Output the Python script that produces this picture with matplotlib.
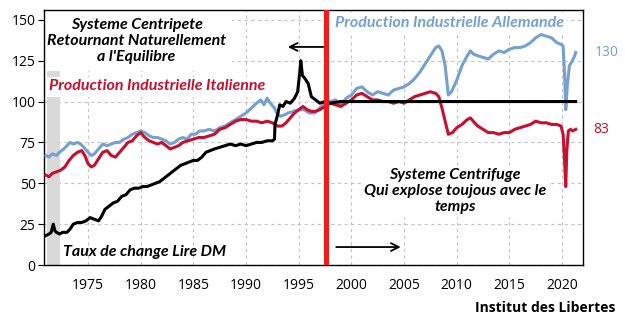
import matplotlib
matplotlib.use("Agg")
import matplotlib.pyplot as plt
from matplotlib.patches import Rectangle

# ---------------- data ----------------
de_t = [1971.0, 1971.3, 1971.6, 1972.0, 1972.3, 1972.7, 1973.0, 1973.3, 1973.6, 1974.0, 1974.3, 1974.6,
        1975.0, 1975.3, 1975.6, 1976.0, 1976.4, 1976.8, 1977.2, 1977.6, 1978.0, 1978.4, 1978.8, 1979.2,
        1979.6, 1980.0, 1980.4, 1980.8, 1981.2, 1981.6, 1982.0, 1982.4, 1982.8, 1983.2, 1983.6, 1984.0,
        1984.4, 1984.8, 1985.2, 1985.6, 1986.0, 1986.5, 1987.0, 1987.5, 1988.0, 1988.5, 1989.0, 1989.5,
        1990.0, 1990.5, 1991.0, 1991.4, 1991.7, 1992.0, 1992.3, 1992.7, 1993.0, 1993.3, 1993.7, 1994.0,
        1994.5, 1995.0, 1995.5, 1996.0, 1996.5, 1997.0, 1997.5, 1998.0, 1998.5, 1999.0, 1999.5, 2000.0,
        2000.5, 2001.0, 2001.5, 2002.0, 2002.5, 2003.0, 2003.5, 2004.0, 2004.5, 2005.0, 2005.5, 2006.0,
        2006.5, 2007.0, 2007.5, 2008.0, 2008.3, 2008.6, 2008.9, 2009.2, 2009.5, 2010.0, 2010.5, 2011.0,
        2011.3, 2011.6, 2012.0, 2012.5, 2013.0, 2013.5, 2014.0, 2014.5, 2015.0, 2015.5, 2016.0, 2016.5,
        2017.0, 2017.5, 2018.0, 2018.5, 2019.0, 2019.5, 2019.9, 2020.1, 2020.25, 2020.35, 2020.5, 2020.7,
        2020.9, 2021.2, 2021.3]
de_v = [67, 66, 68, 67, 69, 71, 73, 75, 74, 75, 74, 72,
        69, 67, 68, 71, 74, 73, 74, 75, 75, 77, 78, 80,
        81, 82, 81, 79, 78, 78, 77, 76, 74, 75, 77, 78,
        77, 80, 80, 82, 82, 83, 82, 84, 85, 87, 89, 91,
        93, 96, 99, 101, 98, 102, 99, 96, 92, 91, 92, 93,
        94, 95, 95, 93, 93, 96, 99, 100, 101, 98, 102, 104,
        108, 109, 106, 104, 106, 105, 104, 107, 108, 109, 111, 114,
        118, 123, 128, 133, 134, 131, 122, 104, 106, 113, 122, 128,
        131, 129, 128, 127, 126, 129, 131, 130, 132, 133, 133, 134,
        136, 139, 141, 140, 139, 136, 135, 134, 115, 95, 110, 122,
        124, 128, 130]

it_t = [1971.0, 1971.3, 1971.6, 1972.0, 1972.4, 1972.8, 1973.2, 1973.6, 1974.0, 1974.4, 1974.7, 1975.0,
        1975.3, 1975.6, 1976.0, 1976.4, 1976.8, 1977.2, 1977.6, 1978.0, 1978.4, 1978.8, 1979.2, 1979.6,
        1980.0, 1980.4, 1980.8, 1981.2, 1981.6, 1982.0, 1982.4, 1982.8, 1983.2, 1983.6, 1984.0, 1984.5,
        1985.0, 1985.5, 1986.0, 1986.5, 1987.0, 1987.5, 1988.0, 1988.5, 1989.0, 1989.5, 1990.0, 1990.5,
        1991.0, 1991.5, 1992.0, 1992.5, 1993.0, 1993.4, 1993.8, 1994.2, 1994.6, 1995.0, 1995.4, 1995.8,
        1996.2, 1996.6, 1997.0, 1997.5, 1998.0, 1998.5, 1999.0, 1999.5, 2000.0, 2000.5, 2001.0, 2001.5,
        2002.0, 2002.5, 2003.0, 2003.5, 2004.0, 2004.5, 2005.0, 2005.5, 2006.0, 2006.5, 2007.0, 2007.5,
        2008.0, 2008.3, 2008.6, 2008.9, 2009.2, 2009.6, 2010.0, 2010.5, 2011.0, 2011.3, 2011.7, 2012.0,
        2012.5, 2013.0, 2013.5, 2014.0, 2014.5, 2015.0, 2015.5, 2016.0, 2016.5, 2017.0, 2017.5, 2018.0,
        2018.5, 2019.0, 2019.5, 2019.9, 2020.1, 2020.25, 2020.35, 2020.45, 2020.6, 2020.8, 2021.0, 2021.3]
it_v = [55, 54, 56, 57, 58, 60, 64, 67, 69, 70, 67, 62,
        60, 61, 65, 69, 70, 67, 66, 69, 72, 75, 76, 79,
        81, 78, 76, 75, 74, 75, 73, 71, 72, 73, 75, 76,
        77, 78, 78, 79, 80, 83, 84, 86, 88, 89, 89, 88,
        88, 87, 88, 87, 85, 85, 87, 90, 93, 95, 97, 95,
        94, 94, 95, 97, 99, 98, 97, 99, 101, 104, 105, 103,
        101, 101, 100, 100, 99, 100, 99, 101, 103, 104, 105, 106,
        105, 103, 96, 88, 80, 81, 84, 86, 89, 90, 87, 85,
        83, 81, 81, 80, 81, 81, 83, 84, 85, 86, 88, 87,
        87, 86, 86, 85, 80, 62, 48, 70, 82, 83, 82, 83]

fx_t = [1971.0, 1971.3, 1971.5, 1971.7, 1971.85, 1972.0, 1972.3, 1972.6, 1973.0, 1973.3, 1973.6, 1974.0,
        1974.4, 1974.8, 1975.2, 1975.6, 1976.0, 1976.3, 1976.6, 1977.0, 1977.4, 1977.8, 1978.2, 1978.6,
        1979.0, 1979.4, 1979.8, 1980.2, 1980.6, 1981.0, 1981.4, 1981.8, 1982.2, 1982.6, 1983.0, 1983.4,
        1983.8, 1984.2, 1984.6, 1985.0, 1985.4, 1985.8, 1986.2, 1986.6, 1987.0, 1987.5, 1988.0, 1988.5,
        1989.0, 1989.5, 1990.0, 1990.5, 1991.0, 1991.5, 1992.0, 1992.5, 1992.7, 1992.75, 1993.0, 1993.2,
        1993.5, 1993.8, 1994.2, 1994.6, 1994.9, 1995.1, 1995.2, 1995.35, 1995.6, 1995.9, 1996.2, 1996.6,
        1997.0, 1997.5, 1998.0, 1999.0, 2005.0, 2010.0, 2015.0, 2021.3]
fx_v = [18, 19, 20, 25, 21, 20, 19, 20, 20, 22, 25, 26,
        26, 27, 29, 28, 27, 30, 34, 36, 38, 39, 42, 43,
        46, 47, 47, 48, 48, 49, 50, 51, 53, 55, 57, 59,
        61, 62, 63, 64, 64, 66, 69, 70, 71, 72, 73, 74,
        73, 74, 73, 74, 75, 75, 76, 76, 77, 86, 92, 98,
        97, 100, 99, 102, 106, 118, 125, 116, 114, 111, 103, 101,
        99, 100, 99, 100, 100, 100, 100, 100]

x_ticks = [1975, 1980, 1985, 1990, 1995, 2000, 2005, 2010, 2015, 2020]
y_ticks = [0, 25, 50, 75, 100, 125, 150]

# ---------------- style ----------------
BLUE = "#74a0d2"
RED = "#c8102e"
TXT_FONT = ["Lato", "DejaVu Sans"]
FS = 11.5
plt.rcParams["font.family"] = ["Open Sans", "DejaVu Sans"]

fig = plt.figure(figsize=(6.25, 3.28), dpi=100)
ax = fig.add_axes([0.0704, 0.192, 0.8626, 0.7775])

ax.set_xlim(1970.82, 2022.0)
ax.set_ylim(0, 156)

ax.axvspan(1971.1, 1972.35, color="#d9d9d9", zorder=1, lw=0)

ax.plot(de_t, de_v, color=BLUE, lw=2.2, zorder=3)
ax.plot(it_t, it_v, color=RED, lw=2.2, zorder=3)
ax.plot(fx_t, fx_v, color="black", lw=2.2, zorder=4)

ax.axvline(1997.6, color="#f41a1a", lw=3.6, zorder=5)

ax.set_xticks(x_ticks)
ax.set_yticks(y_ticks)
ax.tick_params(axis="x", length=0, pad=9, labelsize=10)
ax.tick_params(axis="y", length=4, pad=2, labelsize=10)
ax.grid(True, ls=(0, (3, 3)), color="#c4c4c4", lw=0.8)
ax.set_axisbelow(True)
for s in ax.spines.values():
    s.set_color("black")
    s.set_linewidth(1.0)

# white panels behind the left annotations
ax.add_patch(Rectangle((1970.82, 118.5), 17.8, 38, facecolor="white", edgecolor="none", zorder=2))
ax.add_patch(Rectangle((1970.82, 102.5), 21.5, 12.5, facecolor="white", edgecolor="none", zorder=2))

wb = dict(facecolor="white", edgecolor="none", pad=2)

ax.text(1979.6, 137, "Systeme Centripete\nRetournant Naturellement\na l'Equilibre",
        ha="center", va="center", fontsize=FS, style="italic", fontweight="bold",
        family=TXT_FONT, linespacing=1.22, zorder=6)
ax.text(1971.3, 109.5, "Production Industrielle Italienne", ha="left", va="center",
        fontsize=FS, style="italic", fontweight="bold", family=TXT_FONT, color=RED, zorder=6)
ax.text(1998.45, 148, "Production Industrielle Allemande", ha="left", va="center",
        fontsize=FS, style="italic", fontweight="bold", family=TXT_FONT, color=BLUE, bbox=wb, zorder=6)
ax.text(1972.6, 8, "Taux de change Lire DM", ha="left", va="center",
        fontsize=FS, style="italic", fontweight="bold", family=TXT_FONT, color="black", zorder=6)
ax.text(2009.85, 45.3, "Systeme Centrifuge\nQui explose toujous avec le\ntemps",
        ha="center", va="center", fontsize=FS, style="italic", fontweight="bold",
        family=TXT_FONT, linespacing=1.22, bbox=wb, zorder=6)

ax.annotate("", xy=(1993.7, 133.4), xytext=(1997.6, 133.4),
            arrowprops=dict(arrowstyle="->", color="black", lw=1.3, mutation_scale=14), zorder=6)
ax.annotate("", xy=(2004.95, 11), xytext=(1998.3, 11),
            arrowprops=dict(arrowstyle="->", color="black", lw=1.3, mutation_scale=14), zorder=6)

ax.annotate("130", xy=(1.022, 130), xycoords=("axes fraction", "data"), ha="left", va="center",
            fontsize=10, color=BLUE, annotation_clip=False)
ax.annotate("83", xy=(1.019, 83), xycoords=("axes fraction", "data"), ha="left", va="center",
            fontsize=10, color=RED, annotation_clip=False)

fig.text(0.984, 0.061, "Institut des Libertes", ha="right", va="center", fontsize=10,
         fontweight="bold", family=["Open Sans", "DejaVu Sans"])

fig.savefig("out.png", dpi=100)
